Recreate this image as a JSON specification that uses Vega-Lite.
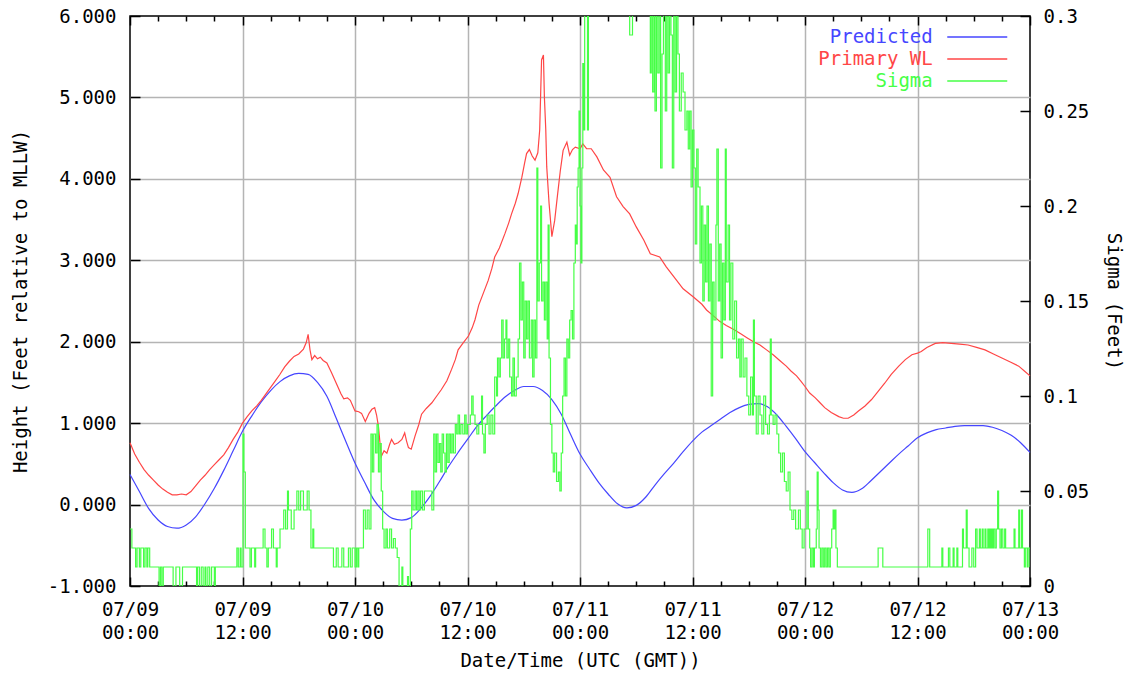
{
  "$schema": "https://vega.github.io/schema/vega-lite/v6.json",
  "width": 900,
  "height": 570,
  "autosize": "none",
  "padding": {"left": 130, "top": 16, "right": 97, "bottom": 91},
  "background": "#ffffff",
  "config": {
    "view": {"stroke": "#000000", "strokeWidth": 1.5},
    "font": "DejaVu Sans Mono",
    "axis": {"labelFont": "DejaVu Sans Mono", "labelFontSize": 19, "labelColor": "#000000", "titleFont": "DejaVu Sans Mono", "titleFontSize": 19, "titleFontWeight": "normal", "titleColor": "#000000", "tickColor": "#000000", "tickWidth": 1.5, "domain": false, "gridColor": "#b4b4b4", "gridWidth": 1.5, "labelOverlap": false, "labelFlush": false}
  },
  "datasets": {
    "predicted": [
      {"hour":0,"feet":0.37},{"hour":1,"feet":0.16},{"hour":2,"feet":-0.05},{"hour":3,"feet":-0.19},{"hour":4,"feet":-0.27},{"hour":5,"feet":-0.29},{"hour":6,"feet":-0.25},{"hour":7,"feet":-0.15},{"hour":8,"feet":0.01},{"hour":9,"feet":0.20},{"hour":10,"feet":0.42},{"hour":11,"feet":0.66},{"hour":12,"feet":0.90},{"hour":13,"feet":1.09},{"hour":14,"feet":1.26},{"hour":15,"feet":1.40},{"hour":16,"feet":1.51},{"hour":17,"feet":1.58},{"hour":18,"feet":1.61},{"hour":19,"feet":1.60},{"hour":20,"feet":1.50},{"hour":21,"feet":1.33},{"hour":22,"feet":1.06},{"hour":23,"feet":0.78},{"hour":24,"feet":0.51},{"hour":25,"feet":0.28},{"hour":26,"feet":0.06},{"hour":27,"feet":-0.08},{"hour":28,"feet":-0.17},{"hour":29,"feet":-0.19},{"hour":30,"feet":-0.16},{"hour":31,"feet":-0.05},{"hour":32,"feet":0.10},{"hour":33,"feet":0.28},{"hour":34,"feet":0.47},{"hour":35,"feet":0.64},{"hour":36,"feet":0.80},{"hour":37,"feet":0.96},{"hour":38,"feet":1.09},{"hour":39,"feet":1.21},{"hour":40,"feet":1.32},{"hour":41,"feet":1.40},{"hour":42,"feet":1.45},{"hour":43,"feet":1.45},{"hour":44,"feet":1.40},{"hour":45,"feet":1.29},{"hour":46,"feet":1.11},{"hour":47,"feet":0.86},{"hour":48,"feet":0.62},{"hour":49,"feet":0.44},{"hour":50,"feet":0.27},{"hour":51,"feet":0.13},{"hour":52,"feet":0.01},{"hour":53,"feet":-0.04},{"hour":54,"feet":-0.01},{"hour":55,"feet":0.09},{"hour":56,"feet":0.24},{"hour":57,"feet":0.38},{"hour":58,"feet":0.51},{"hour":59,"feet":0.65},{"hour":60,"feet":0.78},{"hour":61,"feet":0.89},{"hour":62,"feet":0.97},{"hour":63,"feet":1.05},{"hour":64,"feet":1.13},{"hour":65,"feet":1.19},{"hour":66,"feet":1.23},{"hour":67,"feet":1.24},{"hour":68,"feet":1.20},{"hour":69,"feet":1.10},{"hour":70,"feet":0.96},{"hour":71,"feet":0.81},{"hour":72,"feet":0.65},{"hour":73,"feet":0.52},{"hour":74,"feet":0.39},{"hour":75,"feet":0.27},{"hour":76,"feet":0.18},{"hour":77,"feet":0.15},{"hour":78,"feet":0.19},{"hour":79,"feet":0.29},{"hour":80,"feet":0.40},{"hour":81,"feet":0.51},{"hour":82,"feet":0.62},{"hour":83,"feet":0.72},{"hour":84,"feet":0.82},{"hour":85,"feet":0.88},{"hour":86,"feet":0.92},{"hour":87,"feet":0.94},{"hour":88,"feet":0.96},{"hour":89,"feet":0.97},{"hour":90,"feet":0.97},{"hour":91,"feet":0.97},{"hour":92,"feet":0.95},{"hour":93,"feet":0.91},{"hour":94,"feet":0.85},{"hour":95,"feet":0.76},{"hour":96,"feet":0.64}
    ],
    "primary": [
      {"hour":0,"feet":0.76},{"hour":0.5,"feet":0.62},{"hour":1,"feet":0.52},{"hour":1.5,"feet":0.43},{"hour":2,"feet":0.36},{"hour":2.5,"feet":0.30},{"hour":3,"feet":0.24},{"hour":3.5,"feet":0.19},{"hour":4,"feet":0.15},{"hour":4.5,"feet":0.12},{"hour":5,"feet":0.12},{"hour":5.5,"feet":0.13},{"hour":6,"feet":0.12},{"hour":6.5,"feet":0.16},{"hour":7,"feet":0.23},{"hour":7.5,"feet":0.30},{"hour":8,"feet":0.36},{"hour":8.5,"feet":0.43},{"hour":9,"feet":0.49},{"hour":9.5,"feet":0.55},{"hour":10,"feet":0.61},{"hour":10.5,"feet":0.70},{"hour":11,"feet":0.80},{"hour":11.5,"feet":0.89},{"hour":12,"feet":1.00},{"hour":12.5,"feet":1.08},{"hour":13,"feet":1.15},{"hour":13.5,"feet":1.21},{"hour":14,"feet":1.28},{"hour":14.5,"feet":1.36},{"hour":15,"feet":1.44},{"hour":15.5,"feet":1.52},{"hour":16,"feet":1.60},{"hour":16.5,"feet":1.69},{"hour":17,"feet":1.76},{"hour":17.5,"feet":1.82},{"hour":18,"feet":1.85},{"hour":18.5,"feet":1.91},{"hour":18.8,"feet":1.99},{"hour":19,"feet":2.09},{"hour":19.2,"feet":1.90},{"hour":19.4,"feet":1.78},{"hour":19.7,"feet":1.83},{"hour":20,"feet":1.79},{"hour":20.3,"feet":1.81},{"hour":20.6,"feet":1.77},{"hour":21,"feet":1.74},{"hour":21.5,"feet":1.62},{"hour":22,"feet":1.49},{"hour":22.5,"feet":1.36},{"hour":22.8,"feet":1.30},{"hour":23.2,"feet":1.31},{"hour":23.5,"feet":1.28},{"hour":24,"feet":1.15},{"hour":24.4,"feet":1.14},{"hour":24.7,"feet":1.12},{"hour":25.1,"feet":1.02},{"hour":25.5,"feet":1.12},{"hour":25.8,"feet":1.17},{"hour":26.1,"feet":1.19},{"hour":26.3,"feet":1.10},{"hour":26.5,"feet":0.96},{"hour":26.8,"feet":0.59},{"hour":27.1,"feet":0.66},{"hour":27.4,"feet":0.63},{"hour":27.7,"feet":0.74},{"hour":27.9,"feet":0.80},{"hour":28.2,"feet":0.74},{"hour":28.6,"feet":0.76},{"hour":29,"feet":0.80},{"hour":29.3,"feet":0.88},{"hour":29.5,"feet":0.78},{"hour":29.7,"feet":0.70},{"hour":30,"feet":0.68},{"hour":30.4,"feet":0.84},{"hour":30.8,"feet":0.98},{"hour":31.1,"feet":1.11},{"hour":31.6,"feet":1.18},{"hour":32.2,"feet":1.25},{"hour":32.7,"feet":1.33},{"hour":33.2,"feet":1.41},{"hour":33.8,"feet":1.52},{"hour":34.3,"feet":1.66},{"hour":34.7,"feet":1.78},{"hour":35,"feet":1.90},{"hour":35.5,"feet":1.98},{"hour":36.1,"feet":2.07},{"hour":36.5,"feet":2.17},{"hour":36.8,"feet":2.27},{"hour":37.2,"feet":2.45},{"hour":37.7,"feet":2.60},{"hour":38.2,"feet":2.75},{"hour":38.6,"feet":2.90},{"hour":38.9,"feet":3.04},{"hour":39.4,"feet":3.15},{"hour":40,"feet":3.33},{"hour":40.4,"feet":3.46},{"hour":40.7,"feet":3.57},{"hour":41.1,"feet":3.70},{"hour":41.4,"feet":3.82},{"hour":41.8,"feet":4.02},{"hour":42.1,"feet":4.20},{"hour":42.3,"feet":4.31},{"hour":42.6,"feet":4.36},{"hour":42.9,"feet":4.28},{"hour":43.2,"feet":4.23},{"hour":43.5,"feet":4.32},{"hour":43.7,"feet":4.60},{"hour":43.9,"feet":5.46},{"hour":44.1,"feet":5.52},{"hour":44.2,"feet":5.01},{"hour":44.35,"feet":4.60},{"hour":44.45,"feet":4.15},{"hour":44.7,"feet":3.70},{"hour":45,"feet":3.29},{"hour":45.3,"feet":3.49},{"hour":45.6,"feet":3.80},{"hour":45.9,"feet":4.10},{"hour":46.2,"feet":4.35},{"hour":46.6,"feet":4.45},{"hour":46.9,"feet":4.29},{"hour":47.2,"feet":4.36},{"hour":47.5,"feet":4.39},{"hour":48,"feet":4.37},{"hour":48.3,"feet":4.43},{"hour":48.7,"feet":4.37},{"hour":49.2,"feet":4.37},{"hour":49.8,"feet":4.27},{"hour":50.5,"feet":4.11},{"hour":51.2,"feet":4.02},{"hour":51.9,"feet":3.78},{"hour":52.6,"feet":3.66},{"hour":53.3,"feet":3.57},{"hour":54,"feet":3.41},{"hour":54.8,"feet":3.25},{"hour":55.5,"feet":3.08},{"hour":56.5,"feet":3.04},{"hour":57.2,"feet":2.92},{"hour":58,"feet":2.80},{"hour":59,"feet":2.65},{"hour":60.1,"feet":2.55},{"hour":61,"feet":2.46},{"hour":61.5,"feet":2.39},{"hour":62.2,"feet":2.32},{"hour":62.9,"feet":2.25},{"hour":63.6,"feet":2.20},{"hour":64.4,"feet":2.15},{"hour":65.1,"feet":2.10},{"hour":65.8,"feet":2.05},{"hour":66.5,"feet":2.00},{"hour":67.2,"feet":1.96},{"hour":67.9,"feet":1.90},{"hour":68.6,"feet":1.84},{"hour":69.3,"feet":1.77},{"hour":70,"feet":1.70},{"hour":70.5,"feet":1.64},{"hour":71.1,"feet":1.58},{"hour":71.6,"feet":1.51},{"hour":72,"feet":1.45},{"hour":72.5,"feet":1.37},{"hour":73.1,"feet":1.31},{"hour":73.6,"feet":1.25},{"hour":74.1,"feet":1.19},{"hour":74.8,"feet":1.13},{"hour":75.6,"feet":1.08},{"hour":76.1,"feet":1.06},{"hour":76.6,"feet":1.06},{"hour":77.2,"feet":1.10},{"hour":77.7,"feet":1.15},{"hour":78.4,"feet":1.21},{"hour":79.1,"feet":1.29},{"hour":79.8,"feet":1.39},{"hour":80.5,"feet":1.49},{"hour":81.2,"feet":1.60},{"hour":82,"feet":1.70},{"hour":82.7,"feet":1.78},{"hour":83.4,"feet":1.84},{"hour":84,"feet":1.86},{"hour":84.4,"feet":1.88},{"hour":85,"feet":1.93},{"hour":85.9,"feet":1.98},{"hour":86.7,"feet":1.99},{"hour":87.6,"feet":1.98},{"hour":88.5,"feet":1.97},{"hour":89.4,"feet":1.96},{"hour":90.3,"feet":1.93},{"hour":91.2,"feet":1.90},{"hour":92.1,"feet":1.85},{"hour":93,"feet":1.80},{"hour":93.9,"feet":1.75},{"hour":94.8,"feet":1.70},{"hour":95.4,"feet":1.64},{"hour":96,"feet":1.58}
    ],
    "sigma": [
      {"hour":0,"sigma":0.03},{"hour":0.2,"sigma":0.02},{"hour":0.6,"sigma":0.01},{"hour":0.75,"sigma":0.02},{"hour":1.0,"sigma":0.01},{"hour":1.15,"sigma":0.02},{"hour":1.45,"sigma":0.01},{"hour":1.6,"sigma":0.02},{"hour":1.8,"sigma":0.01},{"hour":1.9,"sigma":0.02},{"hour":2.1,"sigma":0.01},{"hour":3.1,"sigma":0},{"hour":3.25,"sigma":0.01},{"hour":3.4,"sigma":0},{"hour":3.55,"sigma":0.01},{"hour":4.6,"sigma":0},{"hour":4.9,"sigma":0.01},{"hour":5.3,"sigma":0},{"hour":5.6,"sigma":0.01},{"hour":7.1,"sigma":0},{"hour":7.2,"sigma":0.01},{"hour":7.4,"sigma":0},{"hour":7.6,"sigma":0.01},{"hour":7.8,"sigma":0},{"hour":8.0,"sigma":0.01},{"hour":8.1,"sigma":0},{"hour":8.3,"sigma":0.01},{"hour":8.5,"sigma":0},{"hour":8.7,"sigma":0.01},{"hour":9.0,"sigma":0},{"hour":9.1,"sigma":0.01},{"hour":11.4,"sigma":0.02},{"hour":11.55,"sigma":0.01},{"hour":11.75,"sigma":0.02},{"hour":11.85,"sigma":0.01},{"hour":12.05,"sigma":0.08},{"hour":12.15,"sigma":0.06},{"hour":12.3,"sigma":0.02},{"hour":12.8,"sigma":0.01},{"hour":12.95,"sigma":0.02},{"hour":13.3,"sigma":0.01},{"hour":13.4,"sigma":0.02},{"hour":14.2,"sigma":0.03},{"hour":14.4,"sigma":0.02},{"hour":14.6,"sigma":0.01},{"hour":14.75,"sigma":0.02},{"hour":15.1,"sigma":0.03},{"hour":15.3,"sigma":0.02},{"hour":15.6,"sigma":0.01},{"hour":15.7,"sigma":0.02},{"hour":16.0,"sigma":0.03},{"hour":16.4,"sigma":0.04},{"hour":16.6,"sigma":0.03},{"hour":16.8,"sigma":0.05},{"hour":16.9,"sigma":0.04},{"hour":17.2,"sigma":0.03},{"hour":17.5,"sigma":0.04},{"hour":17.8,"sigma":0.05},{"hour":18.0,"sigma":0.04},{"hour":18.2,"sigma":0.05},{"hour":18.5,"sigma":0.04},{"hour":18.9,"sigma":0.05},{"hour":19.1,"sigma":0.04},{"hour":19.3,"sigma":0.02},{"hour":19.5,"sigma":0.03},{"hour":19.6,"sigma":0.02},{"hour":21.7,"sigma":0.01},{"hour":22.0,"sigma":0.02},{"hour":22.2,"sigma":0.01},{"hour":22.6,"sigma":0.02},{"hour":22.8,"sigma":0.01},{"hour":23.3,"sigma":0.02},{"hour":23.5,"sigma":0.01},{"hour":23.7,"sigma":0.02},
      {"hour":24.0,"sigma":0.01},{"hour":24.15,"sigma":0.02},{"hour":24.3,"sigma":0.01},{"hour":24.4,"sigma":0.02},{"hour":24.9,"sigma":0.04},{"hour":25.1,"sigma":0.03},{"hour":25.3,"sigma":0.04},{"hour":25.5,"sigma":0.03},{"hour":25.7,"sigma":0.08},{"hour":25.85,"sigma":0.06},{"hour":26.0,"sigma":0.08},{"hour":26.2,"sigma":0.07},{"hour":26.35,"sigma":0.085},{"hour":26.5,"sigma":0.06},{"hour":26.65,"sigma":0.075},{"hour":26.8,"sigma":0.05},{"hour":26.95,"sigma":0.03},{"hour":27.1,"sigma":0.02},{"hour":27.3,"sigma":0.03},{"hour":27.45,"sigma":0.02},{"hour":27.7,"sigma":0.03},{"hour":27.9,"sigma":0.02},{"hour":28.1,"sigma":0.025},{"hour":28.3,"sigma":0.02},{"hour":28.5,"sigma":0.015},{"hour":28.7,"sigma":0},{"hour":29.0,"sigma":0.01},{"hour":29.1,"sigma":0},{"hour":29.6,"sigma":0.005},{"hour":29.7,"sigma":0},{"hour":29.9,"sigma":0.03},{"hour":30.05,"sigma":0.05},{"hour":30.2,"sigma":0.04},{"hour":30.4,"sigma":0.05},{"hour":30.55,"sigma":0.04},{"hour":30.7,"sigma":0.05},{"hour":30.85,"sigma":0.04},{"hour":31.0,"sigma":0.05},{"hour":31.2,"sigma":0.04},{"hour":31.4,"sigma":0.05},{"hour":32.2,"sigma":0.04},{"hour":32.4,"sigma":0.08},{"hour":32.55,"sigma":0.06},{"hour":32.7,"sigma":0.08},{"hour":32.85,"sigma":0.065},{"hour":33.0,"sigma":0.075},{"hour":33.15,"sigma":0.06},{"hour":33.3,"sigma":0.08},{"hour":33.45,"sigma":0.07},{"hour":33.6,"sigma":0.06},{"hour":33.75,"sigma":0.08},{"hour":33.9,"sigma":0.065},{"hour":34.05,"sigma":0.08},{"hour":34.2,"sigma":0.07},{"hour":34.35,"sigma":0.08},{"hour":34.5,"sigma":0.07},{"hour":34.7,"sigma":0.085},{"hour":34.85,"sigma":0.08},{"hour":35.0,"sigma":0.09},{"hour":35.15,"sigma":0.08},{"hour":35.3,"sigma":0.085},{"hour":35.5,"sigma":0.08},{"hour":35.7,"sigma":0.09},{"hour":35.85,"sigma":0.08},{"hour":36.0,"sigma":0.085},{"hour":36.3,"sigma":0.09},{"hour":36.45,"sigma":0.10},{"hour":36.6,"sigma":0.09},{"hour":36.8,"sigma":0.085},{"hour":37.0,"sigma":0.08},{"hour":37.2,"sigma":0.085},{"hour":37.5,"sigma":0.10},{"hour":37.6,"sigma":0.08},{"hour":37.75,"sigma":0.07},{"hour":37.9,"sigma":0.085},{"hour":38.1,"sigma":0.09},{"hour":38.3,"sigma":0.08},{"hour":38.5,"sigma":0.09},{"hour":38.7,"sigma":0.08},{"hour":38.9,"sigma":0.11},{"hour":39.1,"sigma":0.10},{"hour":39.2,"sigma":0.12},{"hour":39.35,"sigma":0.11},{"hour":39.5,"sigma":0.12},{"hour":39.65,"sigma":0.14},{"hour":39.8,"sigma":0.12},{"hour":39.95,"sigma":0.13},{"hour":40.1,"sigma":0.14},{"hour":40.2,"sigma":0.12},{"hour":40.35,"sigma":0.13},{"hour":40.5,"sigma":0.11},{"hour":40.7,"sigma":0.10},{"hour":40.85,"sigma":0.12},{"hour":41.0,"sigma":0.10},{"hour":41.2,"sigma":0.11},{"hour":41.4,"sigma":0.13},{"hour":41.55,"sigma":0.17},{"hour":41.7,"sigma":0.14},{"hour":41.85,"sigma":0.16},{"hour":42.0,"sigma":0.12},{"hour":42.15,"sigma":0.15},{"hour":42.3,"sigma":0.13},{"hour":42.45,"sigma":0.15},{"hour":42.6,"sigma":0.12},{"hour":42.8,"sigma":0.14},{"hour":42.95,"sigma":0.11},{"hour":43.1,"sigma":0.14},{"hour":43.25,"sigma":0.12},{"hour":43.4,"sigma":0.22},{"hour":43.5,"sigma":0.15},{"hour":43.65,"sigma":0.17},{"hour":43.8,"sigma":0.20},{"hour":43.9,"sigma":0.15},{"hour":44.05,"sigma":0.16},{"hour":44.2,"sigma":0.14},{"hour":44.35,"sigma":0.16},{"hour":44.5,"sigma":0.13},{"hour":44.6,"sigma":0.19},{"hour":44.7,"sigma":0.12},{"hour":44.85,"sigma":0.085},{"hour":45.0,"sigma":0.07},{"hour":45.15,"sigma":0.06},{"hour":45.3,"sigma":0.07},{"hour":45.5,"sigma":0.055},{"hour":45.7,"sigma":0.06},{"hour":45.85,"sigma":0.05},{"hour":46.0,"sigma":0.07},{"hour":46.15,"sigma":0.10},{"hour":46.3,"sigma":0.12},{"hour":46.45,"sigma":0.10},{"hour":46.6,"sigma":0.13},{"hour":46.75,"sigma":0.12},{"hour":46.9,"sigma":0.14},{"hour":47.05,"sigma":0.145},{"hour":47.2,"sigma":0.13},{"hour":47.35,"sigma":0.17},{"hour":47.5,"sigma":0.19},{"hour":47.6,"sigma":0.18},{"hour":47.7,"sigma":0.21},{"hour":47.8,"sigma":0.22},{"hour":47.9,"sigma":0.25},{"hour":48.0,"sigma":0.20},{"hour":48.1,"sigma":0.17},{"hour":48.2,"sigma":0.22},{"hour":48.3,"sigma":0.275},{"hour":48.4,"sigma":0.24},{"hour":48.5,"sigma":0.32},{"hour":48.8,"sigma":0.24},{"hour":48.9,"sigma":0.34},{"hour":53.3,"sigma":0.29},{"hour":53.6,"sigma":0.34},
      {"hour":55.5,"sigma":0.27},{"hour":55.6,"sigma":0.30},{"hour":55.75,"sigma":0.26},{"hour":55.9,"sigma":0.31},{"hour":56.0,"sigma":0.25},{"hour":56.15,"sigma":0.31},{"hour":56.3,"sigma":0.27},{"hour":56.45,"sigma":0.32},{"hour":56.6,"sigma":0.22},{"hour":56.75,"sigma":0.28},{"hour":56.9,"sigma":0.31},{"hour":57.1,"sigma":0.25},{"hour":57.25,"sigma":0.33},{"hour":57.4,"sigma":0.27},{"hour":57.55,"sigma":0.31},{"hour":57.7,"sigma":0.29},{"hour":57.85,"sigma":0.22},{"hour":58.0,"sigma":0.30},{"hour":58.15,"sigma":0.26},{"hour":58.3,"sigma":0.33},{"hour":58.45,"sigma":0.28},{"hour":58.6,"sigma":0.25},{"hour":58.8,"sigma":0.27},{"hour":59.0,"sigma":0.26},{"hour":59.2,"sigma":0.24},{"hour":59.4,"sigma":0.25},{"hour":59.55,"sigma":0.23},{"hour":59.7,"sigma":0.25},{"hour":59.85,"sigma":0.21},{"hour":60.0,"sigma":0.24},{"hour":60.15,"sigma":0.22},{"hour":60.3,"sigma":0.18},{"hour":60.45,"sigma":0.23},{"hour":60.6,"sigma":0.21},{"hour":60.8,"sigma":0.17},{"hour":60.95,"sigma":0.20},{"hour":61.1,"sigma":0.15},{"hour":61.25,"sigma":0.19},{"hour":61.4,"sigma":0.16},{"hour":61.55,"sigma":0.20},{"hour":61.7,"sigma":0.15},{"hour":61.85,"sigma":0.18},{"hour":62.0,"sigma":0.10},{"hour":62.15,"sigma":0.16},{"hour":62.3,"sigma":0.14},{"hour":62.5,"sigma":0.19},{"hour":62.6,"sigma":0.23},{"hour":62.75,"sigma":0.15},{"hour":62.9,"sigma":0.18},{"hour":63.05,"sigma":0.12},{"hour":63.2,"sigma":0.17},{"hour":63.35,"sigma":0.14},{"hour":63.5,"sigma":0.23},{"hour":63.6,"sigma":0.16},{"hour":63.8,"sigma":0.19},{"hour":63.95,"sigma":0.14},{"hour":64.1,"sigma":0.17},{"hour":64.3,"sigma":0.13},{"hour":64.5,"sigma":0.15},{"hour":64.7,"sigma":0.12},{"hour":64.9,"sigma":0.13},{"hour":65.05,"sigma":0.11},{"hour":65.2,"sigma":0.13},{"hour":65.4,"sigma":0.11},{"hour":65.6,"sigma":0.12},{"hour":65.8,"sigma":0.10},{"hour":66.0,"sigma":0.09},{"hour":66.2,"sigma":0.11},{"hour":66.4,"sigma":0.09},{"hour":66.5,"sigma":0.14},{"hour":66.6,"sigma":0.10},{"hour":66.8,"sigma":0.08},{"hour":67.0,"sigma":0.10},{"hour":67.2,"sigma":0.09},{"hour":67.4,"sigma":0.08},{"hour":67.6,"sigma":0.10},{"hour":67.8,"sigma":0.085},{"hour":68.0,"sigma":0.08},{"hour":68.2,"sigma":0.09},{"hour":68.3,"sigma":0.13},{"hour":68.4,"sigma":0.09},{"hour":68.6,"sigma":0.085},{"hour":68.8,"sigma":0.09},{"hour":69.0,"sigma":0.08},{"hour":69.2,"sigma":0.07},{"hour":69.4,"sigma":0.06},{"hour":69.6,"sigma":0.07},{"hour":69.8,"sigma":0.055},{"hour":70.0,"sigma":0.05},{"hour":70.2,"sigma":0.06},{"hour":70.4,"sigma":0.04},{"hour":70.6,"sigma":0.035},{"hour":70.8,"sigma":0.04},{"hour":71.0,"sigma":0.03},{"hour":71.3,"sigma":0.04},{"hour":71.5,"sigma":0.03},{"hour":71.7,"sigma":0.02},{"hour":71.9,"sigma":0.03},
      {"hour":72.2,"sigma":0.05},{"hour":72.35,"sigma":0.03},{"hour":72.5,"sigma":0.02},{"hour":72.6,"sigma":0.01},{"hour":72.75,"sigma":0.02},{"hour":72.9,"sigma":0.01},{"hour":73.0,"sigma":0.02},{"hour":73.2,"sigma":0.03},{"hour":73.3,"sigma":0.06},{"hour":73.4,"sigma":0.04},{"hour":73.5,"sigma":0.02},{"hour":73.65,"sigma":0.01},{"hour":73.8,"sigma":0.02},{"hour":73.95,"sigma":0.01},{"hour":74.1,"sigma":0.02},{"hour":74.25,"sigma":0.01},{"hour":74.4,"sigma":0.02},{"hour":74.55,"sigma":0.01},{"hour":74.7,"sigma":0.02},{"hour":74.85,"sigma":0.03},{"hour":75.0,"sigma":0.04},{"hour":75.1,"sigma":0.03},{"hour":75.2,"sigma":0.04},{"hour":75.3,"sigma":0.02},{"hour":75.45,"sigma":0.01},{"hour":79.8,"sigma":0.02},{"hour":80.3,"sigma":0.01},{"hour":85.1,"sigma":0.03},{"hour":85.3,"sigma":0.01},{"hour":86.6,"sigma":0.02},{"hour":86.7,"sigma":0.01},{"hour":87.3,"sigma":0.02},{"hour":87.45,"sigma":0.01},{"hour":87.8,"sigma":0.02},{"hour":87.9,"sigma":0.01},{"hour":88.2,"sigma":0.02},{"hour":88.3,"sigma":0.01},{"hour":88.8,"sigma":0.03},{"hour":88.9,"sigma":0.02},{"hour":89.2,"sigma":0.04},{"hour":89.3,"sigma":0.02},{"hour":89.5,"sigma":0.01},{"hour":89.8,"sigma":0.02},{"hour":90.0,"sigma":0.01},{"hour":90.2,"sigma":0.03},{"hour":90.35,"sigma":0.02},{"hour":90.6,"sigma":0.03},{"hour":90.7,"sigma":0.02},{"hour":90.9,"sigma":0.03},{"hour":91.0,"sigma":0.02},{"hour":91.2,"sigma":0.03},{"hour":91.3,"sigma":0.02},{"hour":91.5,"sigma":0.03},{"hour":91.6,"sigma":0.02},{"hour":91.7,"sigma":0.03},{"hour":91.8,"sigma":0.02},{"hour":91.9,"sigma":0.03},{"hour":92.0,"sigma":0.02},{"hour":92.1,"sigma":0.03},{"hour":92.25,"sigma":0.02},{"hour":92.4,"sigma":0.03},{"hour":92.55,"sigma":0.05},{"hour":92.65,"sigma":0.03},{"hour":92.8,"sigma":0.02},{"hour":92.95,"sigma":0.03},{"hour":93.1,"sigma":0.02},{"hour":93.3,"sigma":0.03},{"hour":93.4,"sigma":0.02},{"hour":94.3,"sigma":0.03},{"hour":94.4,"sigma":0.02},{"hour":94.8,"sigma":0.04},{"hour":94.9,"sigma":0.02},{"hour":95.1,"sigma":0.04},{"hour":95.2,"sigma":0.02},{"hour":95.4,"sigma":0.01},{"hour":95.5,"sigma":0.02},{"hour":95.7,"sigma":0.01},{"hour":95.8,"sigma":0.02},{"hour":96.0,"sigma":0.01}
    ]
  },
  "layer": [
    {
      "data": {"name": "predicted"},
      "mark": {"type": "line", "interpolate": "monotone", "strokeWidth": 1.2},
      "encoding": {
        "x": {"field": "hour", "type": "quantitative", "scale": {"domain": [0, 96], "nice": false, "zero": false},
          "axis": {"orient": "bottom", "values": [0, 12, 24, 36, 48, 60, 72, 84, 96], "offset": -9, "tickSize": 9, "grid": true,
            "gridOpacity": {"condition": {"test": "datum.value == 0 || datum.value == 96", "value": 0}, "value": 1},
            "labelExpr": "['07/' + (9 + floor(datum.value / 24) < 10 ? '0' : '') + (9 + floor(datum.value / 24)), (datum.value % 24 < 10 ? '0' : '') + (datum.value % 24) + ':00']",
            "labelPadding": 14, "labelLineHeight": 23, "title": "Date/Time (UTC (GMT))", "titlePadding": 9}},
        "y": {"field": "feet", "type": "quantitative", "scale": {"domain": [-1, 6], "nice": false, "zero": false},
          "axis": {"orient": "left", "values": [-1, 0, 1, 2, 3, 4, 5, 6], "offset": -10, "tickSize": 10, "grid": true,
            "gridOpacity": {"condition": {"test": "datum.value == -1 || datum.value == 6", "value": 0}, "value": 1},
            "labelExpr": "datum.value < 0 ? '-' + format(-datum.value, '.3f') : format(datum.value, '.3f')",
            "labelPadding": 14, "title": "Height (Feet relative to MLLW)", "titlePadding": 17}},
        "color": {"datum": "Predicted", "type": "nominal",
          "scale": {"domain": ["Predicted", "Primary WL", "Sigma"], "range": ["#4646ff", "#ff4646", "#46ff46"]},
          "legend": {"title": null, "orient": "none", "legendX": 817, "legendY": 10, "padding": 0,
            "symbolType": "M-3,0H3", "symbolSize": 400, "symbolStrokeWidth": 1.5, "symbolOffset": 19.25,
            "labelFont": "DejaVu Sans Mono", "labelFontSize": 19, "labelAlign": "right", "labelOffset": -55.5, "labelLimit": 300,
            "rowPadding": 1,
            "labelColor": {"expr": "datum.label === 'Predicted' ? '#4646ff' : datum.label === 'Primary WL' ? '#ff4646' : '#46ff46'"}}}
      }
    },
    {
      "data": {"name": "primary"},
      "mark": {"type": "line", "strokeWidth": 1.2},
      "encoding": {
        "x": {"field": "hour", "type": "quantitative", "scale": {"domain": [0, 96], "nice": false, "zero": false},
          "axis": {"orient": "top", "values": [0, 12, 24, 36, 48, 60, 72, 84, 96], "offset": -9, "tickSize": 9, "labels": false, "grid": false, "title": null}},
        "y": {"field": "feet", "type": "quantitative", "scale": {"domain": [-1, 6], "nice": false, "zero": false}, "axis": null},
        "color": {"datum": "Primary WL", "type": "nominal"}
      }
    },
    {
      "data": {"name": "predicted"},
      "mark": {"type": "line", "strokeOpacity": 0},
      "encoding": {
        "x": {"field": "hour", "type": "quantitative", "scale": {"domain": [0, 96], "nice": false, "zero": false},
          "axis": {"orient": "top", "values": [3, 6, 9, 15, 18, 21, 27, 30, 33, 39, 42, 45, 51, 54, 57, 63, 66, 69, 75, 78, 81, 87, 90, 93], "offset": -5, "tickSize": 5, "labels": false, "grid": false, "title": null}},
        "y": {"field": "feet", "type": "quantitative", "scale": {"domain": [-1, 6], "nice": false, "zero": false}, "axis": null}
      }
    },
    {
      "data": {"name": "sigma"},
      "mark": {"type": "line", "interpolate": "step-after", "strokeWidth": 1.2, "clip": true},
      "encoding": {
        "x": {"field": "hour", "type": "quantitative", "scale": {"domain": [0, 96], "nice": false, "zero": false},
          "axis": {"orient": "bottom", "values": [3, 6, 9, 15, 18, 21, 27, 30, 33, 39, 42, 45, 51, 54, 57, 63, 66, 69, 75, 78, 81, 87, 90, 93], "offset": -5, "tickSize": 5, "labels": false, "grid": false, "title": null}},
        "y": {"field": "sigma", "type": "quantitative", "scale": {"domain": [0, 0.3], "nice": false, "zero": false},
          "axis": {"orient": "right", "values": [0, 0.05, 0.1, 0.15, 0.2, 0.25, 0.3], "offset": -10, "tickSize": 10, "grid": false, "format": "~g", "labelPadding": 13, "title": "Sigma (Feet)", "titlePadding": 15}},
        "color": {"datum": "Sigma", "type": "nominal"}
      }
    }
  ],
  "resolve": {"scale": {"y": "independent"}, "axis": {"x": "independent", "y": "independent"}}
}
